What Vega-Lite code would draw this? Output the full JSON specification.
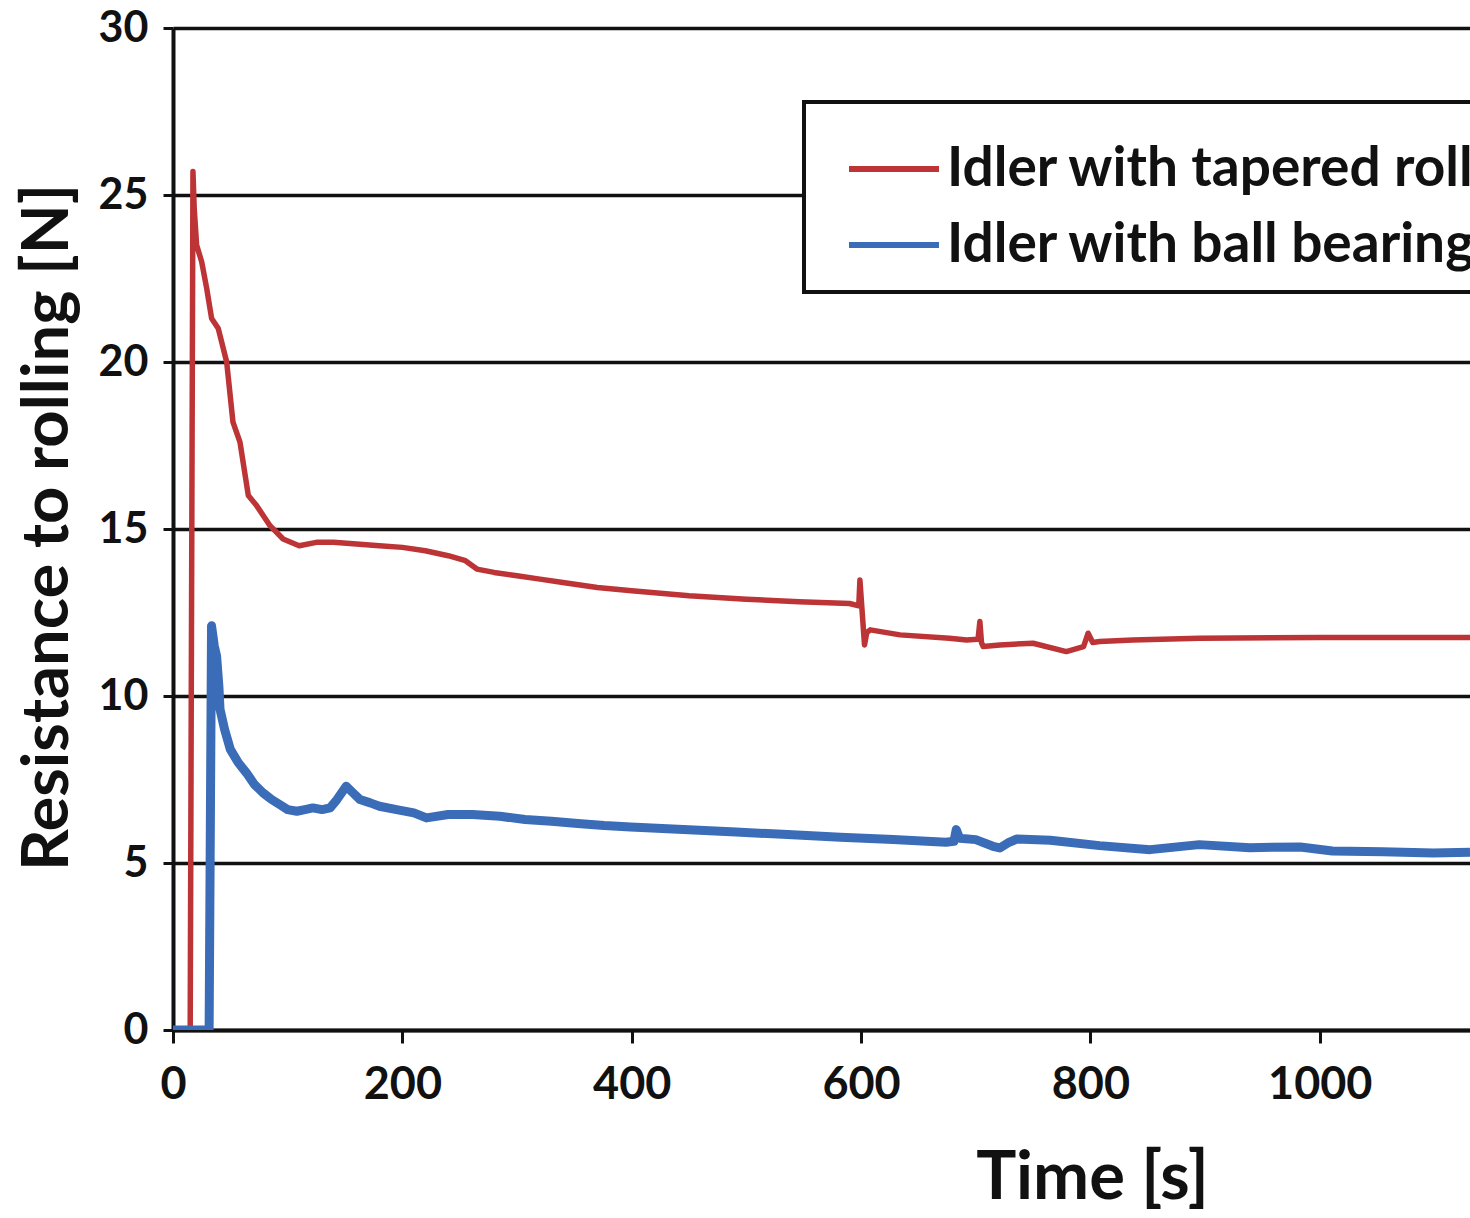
{
  "$schema": "https://vega.github.io/schema/vega-lite/v6.json",
  "width": 1297,
  "height": 1002,
  "autosize": {"type": "none"},
  "padding": {"left": 173, "top": 28, "right": 0, "bottom": 188},
  "background": "white",
  "config": {"font": "Lato", "view": {"stroke": null}},
  "datasets": {
    "red": [
      {"t":0,"v":0},{"t":15,"v":0},{"t":17.4,"v":25.7},{"t":18.5,"v":24.6},{"t":20.6,"v":23.5},{"t":25,"v":23.0},{"t":29.4,"v":22.2},{"t":33.7,"v":21.3},{"t":39.5,"v":21.0},{"t":46.8,"v":20.0},{"t":52.3,"v":18.2},{"t":58.4,"v":17.6},{"t":65.7,"v":16.0},{"t":72.9,"v":15.7},{"t":84.6,"v":15.1},{"t":96,"v":14.7},{"t":110,"v":14.5},{"t":125,"v":14.6},{"t":140,"v":14.6},{"t":160,"v":14.55},{"t":180,"v":14.5},{"t":200,"v":14.45},{"t":220,"v":14.35},{"t":240,"v":14.2},{"t":255,"v":14.05},{"t":265,"v":13.8},{"t":280,"v":13.7},{"t":300,"v":13.6},{"t":320,"v":13.5},{"t":340,"v":13.4},{"t":370,"v":13.25},{"t":400,"v":13.15},{"t":450,"v":13.0},{"t":500,"v":12.9},{"t":546,"v":12.82},{"t":590,"v":12.77},{"t":598,"v":12.7},{"t":599,"v":13.47},{"t":601,"v":12.5},{"t":603,"v":11.53},{"t":605,"v":11.9},{"t":608,"v":11.98},{"t":634,"v":11.83},{"t":677,"v":11.73},{"t":692,"v":11.68},{"t":702,"v":11.7},{"t":703.6,"v":12.23},{"t":705,"v":11.6},{"t":706.5,"v":11.48},{"t":721,"v":11.53},{"t":750,"v":11.58},{"t":779,"v":11.33},{"t":794,"v":11.48},{"t":798,"v":11.88},{"t":802,"v":11.6},{"t":808,"v":11.63},{"t":837,"v":11.68},{"t":895,"v":11.73},{"t":1000,"v":11.75},{"t":1131,"v":11.75}
    ],
    "blue": [
      {"t":0,"v":0},{"t":31.5,"v":0},{"t":33.6,"v":12.1},{"t":36,"v":11.5},{"t":38,"v":11.2},{"t":40,"v":10.3},{"t":41,"v":9.6},{"t":45,"v":9.0},{"t":50,"v":8.4},{"t":57,"v":8.0},{"t":64,"v":7.7},{"t":71,"v":7.35},{"t":78.5,"v":7.1},{"t":86,"v":6.9},{"t":93,"v":6.75},{"t":100,"v":6.6},{"t":108,"v":6.55},{"t":115,"v":6.6},{"t":122,"v":6.65},{"t":130,"v":6.6},{"t":137,"v":6.65},{"t":143,"v":6.9},{"t":151,"v":7.3},{"t":157,"v":7.1},{"t":163,"v":6.9},{"t":172,"v":6.8},{"t":180,"v":6.7},{"t":195,"v":6.6},{"t":210,"v":6.5},{"t":221,"v":6.35},{"t":240,"v":6.45},{"t":261,"v":6.45},{"t":285,"v":6.4},{"t":307,"v":6.3},{"t":330,"v":6.25},{"t":353,"v":6.18},{"t":376,"v":6.12},{"t":399,"v":6.08},{"t":445,"v":6.0},{"t":491,"v":5.93},{"t":536,"v":5.85},{"t":582,"v":5.77},{"t":628,"v":5.7},{"t":674,"v":5.62},{"t":681,"v":5.65},{"t":683,"v":6.0},{"t":686,"v":5.74},{"t":700,"v":5.7},{"t":715,"v":5.5},{"t":721,"v":5.45},{"t":728,"v":5.6},{"t":736,"v":5.72},{"t":765,"v":5.68},{"t":808,"v":5.52},{"t":852,"v":5.4},{"t":895,"v":5.55},{"t":939,"v":5.46},{"t":983,"v":5.48},{"t":1011,"v":5.36},{"t":1055,"v":5.34},{"t":1099,"v":5.3},{"t":1131,"v":5.32}
    ]
  },
  "encoding": {
    "x": {
      "field": "t", "type": "quantitative",
      "scale": {"domain": [0, 1131], "nice": false},
      "axis": {
        "title": "Time [s]", "values": [0, 200, 400, 600, 800, 1000], "grid": false, "format": "d",
        "domainColor": "#111", "domainWidth": 4, "tickColor": "#111", "tickWidth": 3, "tickSize": 13,
        "labelFont": "Lato", "labelFontWeight": "bold", "labelFontSize": 45, "labelColor": "#111",
        "labelBaseline": "alphabetic", "labelPadding": 55, "labelFlush": false, "labelOverlap": false,
        "titleFont": "Lato", "titleFontSize": 67, "titleFontWeight": "bold", "titleColor": "#111",
        "titleX": 919, "titleY": 168, "titleBaseline": "alphabetic", "titleAlign": "center"
      }
    },
    "y": {
      "field": "v", "type": "quantitative",
      "scale": {"domain": [0, 30], "nice": false},
      "axis": {
        "title": "Resistance to rolling [N]", "values": [0, 5, 10, 15, 20, 25, 30], "grid": true,
        "gridColor": "#111", "gridWidth": 3.5,
        "domainColor": "#111", "domainWidth": 4, "tickColor": "#111", "tickWidth": 3, "tickSize": 10,
        "labelFont": "Lato", "labelFontWeight": "bold", "labelFontSize": 43, "labelColor": "#111",
        "labelPadding": 15, "labelFlush": false, "labelOverlap": false, "labelOffset": 0,
        "titleFont": "Lato", "titleFontSize": 65, "titleFontWeight": "bold", "titleColor": "#111",
        "titleX": -106, "titleY": 499, "titleBaseline": "alphabetic", "titleAlign": "center", "titleAngle": 270
      }
    }
  },
  "layer": [
    {
      "data": {"name": "red"},
      "mark": {"type": "line", "strokeWidth": 5.5, "strokeJoin": "round", "clip": true},
      "encoding": {
        "color": {
          "datum": "Idler with tapered roller bearing", "type": "nominal",
          "scale": {"domain": ["Idler with tapered roller bearing", "Idler with ball bearing"], "range": ["#bd3437", "#3b6cb7"]},
          "legend": {
            "title": null, "orient": "none", "legendX": 631, "legendY": 74, "direction": "vertical",
            "symbolType": "stroke", "symbolSize": 8100, "symbolStrokeWidth": 6, "symbolOffset": 23,
            "labelFont": "Lato", "labelFontSize": 55, "labelFontWeight": "bold", "labelColor": "#111",
            "labelLimit": 0, "labelOffset": 5, "padding": 19, "rowPadding": -11,
            "strokeColor": "#111", "fillColor": "white",
            "encode": {"legend": {"update": {"strokeWidth": {"value": 4}}}}
          }
        }
      }
    },
    {
      "data": {"name": "blue"},
      "mark": {"type": "line", "strokeWidth": 9, "strokeJoin": "round", "clip": true},
      "encoding": {
        "color": {"datum": "Idler with ball bearing", "type": "nominal"}
      }
    }
  ]
}
